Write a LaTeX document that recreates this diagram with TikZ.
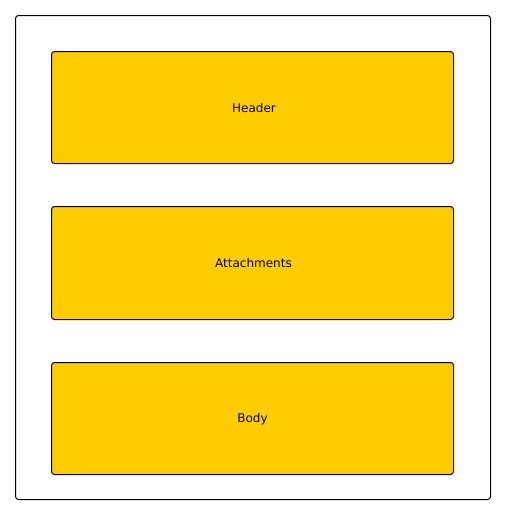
\documentclass[tikz,border=0pt]{standalone}
\usepackage{fontspec}
\setmainfont{DejaVu Sans}
\begin{document}
\begin{tikzpicture}[x=1pt,y=-1pt,
  part/.style={draw=black, fill=yellowbox, rounded corners=3pt, line width=1pt},
  outer/.style={draw=black, fill=white, rounded corners=3pt, line width=1pt},
  lbl/.style={font=\fontsize{12}{14}\selectfont, text=black}]
\definecolor{yellowbox}{HTML}{FFCC00}
\useasboundingbox (0,0) rectangle (505,515);
\fill[white] (0,0) rectangle (505,515);
\draw[outer] (15.5,15.5) rectangle (490.5,499.5);
\draw[part] (51.5,51.5) rectangle (453.5,163.5);
\draw[part] (51.5,206.5) rectangle (453.5,319.5);
\draw[part] (51.5,362.5) rectangle (453.5,474.5);
\node[lbl] (header) at (254,108.5) {Header};
\node[lbl] (attach) at (253.5,263.5) {Attachments};
\node[lbl] (body) at (252.5,419.5) {Body};
\end{tikzpicture}
\end{document}
